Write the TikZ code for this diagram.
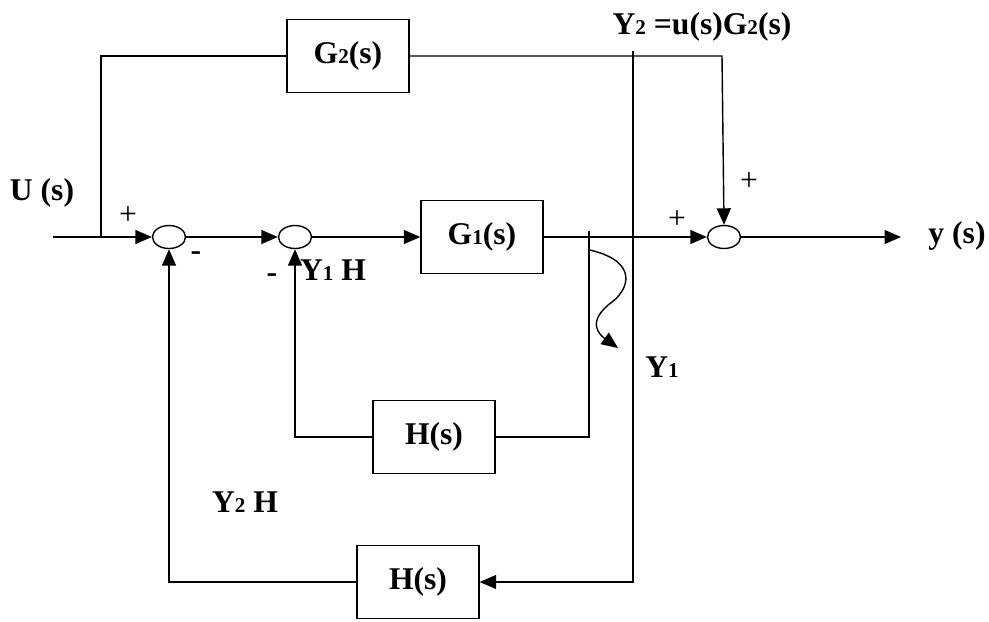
\documentclass[tikz,border=0pt]{standalone}
\usepackage{fontspec}
\setmainfont{Liberation Serif}
\usetikzlibrary{arrows.meta,shapes.geometric}
\newcommand{\lo}[1]{{\fontsize{12}{12}\selectfont #1}}
\tikzset{
  blk/.style={draw, line width=0.8pt, minimum width=2.44cm, minimum height=1.45cm, font=\bfseries\fontsize{18}{20}\selectfont},
  sumj/.style={ellipse, draw, line width=0.8pt, minimum width=6.6mm, minimum height=4.6mm, inner sep=0pt},
  wire/.style={line width=0.8pt},
  arr/.style={wire, -{Triangle[length=3.3mm,width=2.8mm]}},
  lab/.style={font=\bfseries\fontsize{18}{20}\selectfont, inner sep=0pt},
  sgn/.style={font=\fontsize{18}{20}\selectfont, inner sep=0pt},
}
\begin{document}
\begin{tikzpicture}[x=0.2mm, y=-0.2mm]
  \useasboundingbox (0,0) rectangle (989,621);
  % blocks
  \node[blk] (G2) at (348,56) {G\lo{2}(s)};
  \node[blk] (G1) at (482,237) {G\lo{1}(s)};
  \node[blk] (H1) at (434,437) {H(s)};
  \node[blk] (H2) at (418,582) {H(s)};
  % summing points
  \node[sumj] (s1) at (169,237) {};
  \node[sumj] (s2) at (295,237) {};
  \node[sumj] (s3) at (724,237) {};
  % free ends
  \coordinate (in) at (53,237);
  \coordinate (bu) at (101,237);
  \coordinate (g2c) at (722,56);
  \coordinate (t2) at (633,51);
  \coordinate (t1) at (589,231);
  \coordinate (out) at (901,237);
  % forward path
  \draw[arr] (in) -- (s1.west);
  \draw[arr] (s1) -- (s2.west);
  \draw[arr] (s2) -- (G1.west);
  \draw[arr] (G1.east) -- (s3.west);
  \draw[arr] (s3) -- (out);
  % G2 branch
  \draw[wire] (bu) |- (G2.west);
  \draw[arr] (G2.east) -- (g2c) -- (s3.north);
  % feedback loops
  \draw[wire] (t1) |- (H1.east);
  \draw[arr] (H1.west) -| (s2.south);
  \draw[arr] (t2) |- (H2.east);
  \draw[arr] (H2.west) -| (s1.south);
  \draw[arr] (590,250) .. controls (640,262) and (628,290) .. (612,302)
    .. controls (585,322) and (600,335) .. (618,348);
  % labels
  \node[lab] (lU) at (42,193) {U (s)};
  \node[lab] (ly) at (957,236) {y (s)};
  \node[lab] (lY2) at (702,27) {Y\lo{2} =u(s)G\lo{2}(s)};
  \node[lab] (lY1) at (662,367) {Y\lo{1}};
  \node[lab] (lY1H) at (333,270) {Y\lo{1} H};
  \node[lab] (lY2H) at (245,502) {Y\lo{2} H};
  \node[sgn] (p1) at (128,216) {+};
  \node[sgn] (p2) at (677,220) {+};
  \node[sgn] (p3) at (749,182) {+};
  \node[lab] (m1) at (196,256) {-};
  \node[lab] (m2) at (272,278) {-};
\end{tikzpicture}
\end{document}
